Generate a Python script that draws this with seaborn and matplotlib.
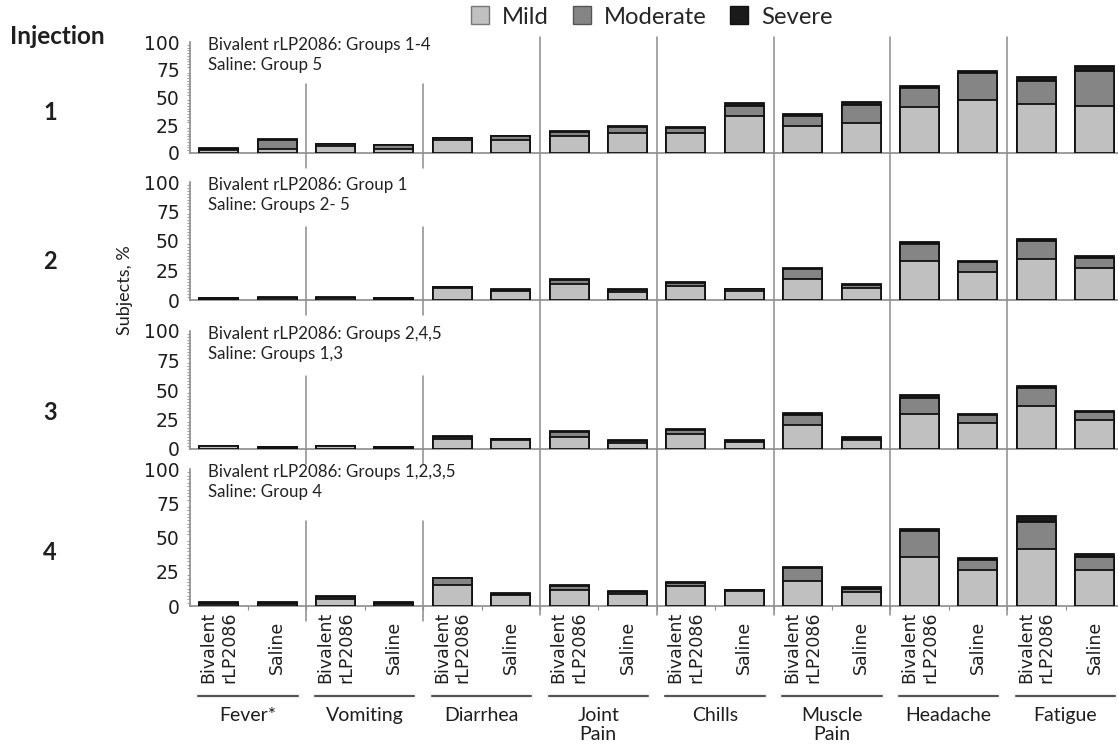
import numpy as np
import pandas as pd
import matplotlib
matplotlib.use("Agg")
import matplotlib.pyplot as plt
from matplotlib.patches import Patch
from matplotlib.lines import Line2D
from matplotlib import transforms
import seaborn as sns

# ---- data (% of subjects) ----
SYMPTOMS = ["Fever*", "Vomiting", "Diarrhea", "Joint\nPain", "Chills",
            "Muscle\nPain", "Headache", "Fatigue"]
ARMS = ["Bivalent\nrLP2086", "Saline"]
INJECTIONS = ["1", "2", "3", "4"]
PANEL_NOTES = [
    "Bivalent rLP2086: Groups 1-4\nSaline: Group 5",
    "Bivalent rLP2086: Group 1\nSaline: Groups 2- 5",
    "Bivalent rLP2086: Groups 2,4,5\nSaline: Groups 1,3",
    "Bivalent rLP2086: Groups 1,2,3,5\nSaline: Group 4",
]

# 16 bars per injection: each symptom -> (Bivalent, Saline)
MILD_1 = [3.0, 4.0, 6.5, 4.0, 12.0, 11.5, 15.5, 18.0, 18.0, 33.0, 24.0, 27.0, 41.0, 47.5, 44.5, 42.5]
MOD_1 = [1.0, 7.5, 1.5, 3.0, 1.3, 3.5, 3.5, 5.5, 4.5, 9.5, 9.5, 16.0, 17.5, 25.0, 20.0, 31.0]
SEV_1 = [0.5, 1.2, 0.3, 0.3, 0.2, 0.3, 1.0, 1.0, 1.2, 2.5, 2.0, 3.0, 2.0, 1.0, 4.0, 4.5]

MILD_2 = [1.2, 1.5, 1.5, 1.0, 10.0, 7.5, 13.5, 7.0, 11.5, 7.5, 18.0, 10.0, 33.0, 24.0, 35.0, 27.0]
MOD_2 = [0.5, 0.5, 0.6, 0.4, 0.8, 1.2, 3.3, 1.5, 3.0, 1.5, 8.0, 2.8, 14.5, 8.0, 15.0, 9.0]
SEV_2 = [0.3, 0.3, 0.2, 0.1, 0.3, 0.3, 1.0, 0.7, 0.8, 0.6, 1.2, 0.8, 1.5, 1.0, 2.0, 1.5]

MILD_3 = [2.3, 1.2, 2.3, 1.2, 8.5, 8.0, 10.0, 5.5, 13.0, 6.2, 20.5, 7.5, 30.0, 22.0, 36.5, 25.0]
MOD_3 = [0.3, 0.5, 0.4, 0.6, 1.5, 0.3, 4.0, 1.5, 2.8, 1.0, 8.5, 1.3, 13.5, 6.5, 15.0, 6.0]
SEV_3 = [0.0, 0.2, 0.1, 0.2, 0.7, 0.2, 1.0, 0.8, 1.2, 0.7, 1.8, 1.0, 2.0, 1.5, 2.2, 1.3]

MILD_4 = [1.8, 1.5, 5.4, 1.7, 15.5, 7.8, 11.5, 9.0, 14.3, 10.7, 18.0, 10.2, 35.8, 26.5, 41.3, 26.0]
MOD_4 = [0.7, 0.8, 1.5, 0.6, 5.0, 1.2, 2.8, 1.0, 2.5, 0.7, 9.5, 2.2, 19.0, 7.0, 20.2, 10.0]
SEV_4 = [0.3, 0.3, 0.6, 0.3, 0.3, 0.7, 1.0, 0.7, 0.5, 0.6, 1.0, 1.2, 1.2, 1.2, 4.1, 1.6]

MILD = [MILD_1, MILD_2, MILD_3, MILD_4]
MOD = [MOD_1, MOD_2, MOD_3, MOD_4]
SEV = [SEV_1, SEV_2, SEV_3, SEV_4]

C_MILD, C_MOD, C_SEV = "#c0c0c0", "#858585", "#1a1a1a"
AXIS_GREY = "#8c8c8c"
CAL = ["Lato", "DejaVu Sans"]

# long table
rows = []
for i, inj in enumerate(INJECTIONS):
    k = 0
    for s in SYMPTOMS:
        for a in ARMS:
            rows.append({"injection": inj, "slot": f"{s}|{a}", "arm": a,
                         "mild": MILD[i][k], "moderate": MOD[i][k], "severe": SEV[i][k]})
            k += 1
df = pd.DataFrame(rows)
df["mild_mod"] = df["mild"] + df["moderate"]
df["total"] = df["mild_mod"] + df["severe"]
slot_order = [f"{s}|{a}" for s in SYMPTOMS for a in ARMS]

sns.set_style("white")
plt.rcParams["font.family"] = ["DejaVu Sans"]

W, H = 1118, 750
fig = plt.figure(figsize=(W / 100, H / 100), dpi=100)

# panel extents in pixels (top = 100 line, bottom = 0 line)
panels_px = [(42, 153), (182, 300), (331, 449), (469, 606)]
row_label_y = [112, 262, 413, 553]
left_px, right_px = 189.5, 1118
slot_px = 58.4
x_hi = -0.5 + (right_px - left_px) / slot_px

axes = []
for i, (top, bot) in enumerate(panels_px):
    ax = fig.add_axes([left_px / W, 1 - bot / H, (right_px - left_px) / W, (bot - top) / H])
    sub = df[df["injection"] == INJECTIONS[i]]
    for col, c in [("total", C_SEV), ("mild_mod", C_MOD), ("mild", C_MILD)]:
        sns.barplot(data=sub, x="slot", y=col, order=slot_order, color=c, saturation=1,
                    errorbar=None, width=0.67, edgecolor="#111111", linewidth=1.3, ax=ax)
    ax.set_xlim(-0.5, x_hi)
    ax.set_ylim(0, 100)
    ax.set_xlabel("")
    ax.set_ylabel("")
    ax.set_yticks([0, 25, 50, 75, 100])
    ax.set_yticks(np.arange(0, 101, 2.5), minor=True)
    ax.tick_params(axis="y", which="major", direction="out", length=4, width=0.8,
                   color=AXIS_GREY, labelsize=13.5, pad=3, labelcolor="#1e1e1e")
    ax.tick_params(axis="y", which="minor", direction="out", length=2.5, width=0.6,
                   color=AXIS_GREY, left=True)
    for sp in ["top", "right"]:
        ax.spines[sp].set_visible(False)
    for sp in ["left", "bottom"]:
        ax.spines[sp].set_color(AXIS_GREY)
        ax.spines[sp].set_linewidth(1.2)
    ax.spines["bottom"].set_zorder(0)
    ax.patch.set_alpha(0)

    # short separators beside the note text
    h_px = bot - top
    for j in (1, 2):
        ax.axvline(2 * j - 0.5, ymin=-15 / h_px, ymax=0.62, color=AXIS_GREY, lw=1.1,
                   clip_on=False, zorder=0)

    ax.text(19 / (right_px - left_px), 1 + 5 / h_px, PANEL_NOTES[i], transform=ax.transAxes,
            ha="left", va="top", fontsize=12.2, family=CAL, linespacing=1.3,
            color="#222222")

    if i < 3:
        ax.set_xticks([])
    else:
        ax.set_xticks(range(len(slot_order)))
        ax.set_xticks(np.arange(0.5, 15.5, 1.0), minor=True)
        ax.tick_params(axis="x", which="major", length=0, pad=41 * 0.72)
        ax.tick_params(axis="x", which="minor", direction="out", length=3, width=0.8,
                       color=AXIS_GREY, bottom=True)
        labs = [s.split("|")[1] for s in slot_order]
        ax.set_xticklabels(labs, rotation=90, va="center", ha="center",
                           multialignment="left", fontsize=12.5, color="#1e1e1e")
    axes.append(ax)

    # injection row label
    fig.text(50 / W, 1 - row_label_y[i] / H, INJECTIONS[i], ha="center", va="center",
             fontsize=17, fontweight="bold", family=CAL, color="#1e1e1e")

ax4 = axes[-1]
# long separators running through all panels
tr = transforms.blended_transform_factory(ax4.transData, fig.transFigure)
for j in range(3, 8):
    fig.add_artist(Line2D([2 * j - 0.5, 2 * j - 0.5], [1 - 37 / H, 1 - 615 / H],
                          transform=tr, color=AXIS_GREY, lw=1.1, zorder=0))

# group underlines and symptom names
for j, s in enumerate(SYMPTOMS):
    fig.add_artist(Line2D([2 * j - 0.35, 2 * j + 1.35], [1 - 696 / H, 1 - 696 / H],
                          transform=tr, color="#555555", lw=1.6))
    fig.text(2 * j + 0.5, 1 - 707 / H, s, transform=tr, ha="center", va="top",
             fontsize=14, family=CAL, linespacing=1.15, color="#1e1e1e")

fig.text(10 / W, 1 - 37 / H, "Injection", ha="left", va="center", fontsize=17.5,
         fontweight="bold", family=CAL, color="#1e1e1e")
fig.text(125 / W, 1 - 290 / H, "Subjects, %", rotation=90, ha="center", va="center",
         fontsize=13, family=CAL, color="#1e1e1e")

handles = [Patch(facecolor=C_MILD, edgecolor="#777777", label="Mild"),
           Patch(facecolor=C_MOD, edgecolor="#555555", label="Moderate"),
           Patch(facecolor=C_SEV, edgecolor="#111111", label="Severe")]
fig.legend(handles=handles, loc="center", bbox_to_anchor=(652 / W, 1 - 17 / H), ncol=3,
           frameon=False, handlelength=0.75, handleheight=0.75, handletextpad=0.55,
           columnspacing=1.0, prop={"family": CAL, "size": 17.2}, borderaxespad=0)

fig.savefig("out.png", dpi=100)
